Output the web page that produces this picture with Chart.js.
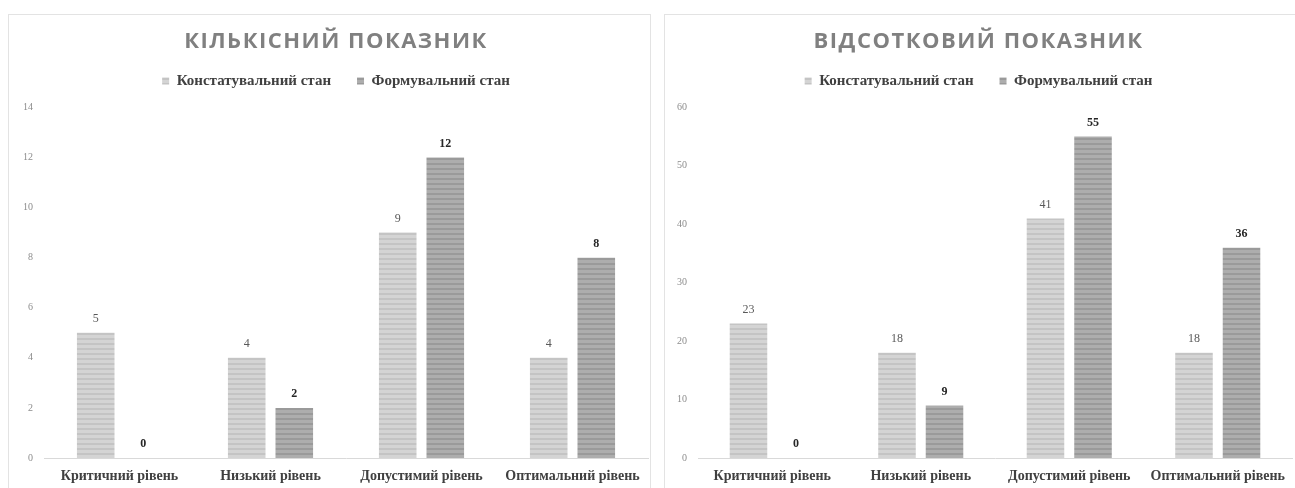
<!DOCTYPE html>
<html>
<head>
<meta charset="utf-8">
<script src="https://cdn.jsdelivr.net/npm/chart.js@4"></script>
<style>
  html, body { margin: 0; padding: 0; background: #fff; overflow: hidden; }
  .panel { position: absolute; top: 14px; border: 1px solid #e3e3e3; background: #fff; }
  #leftPanel { left: 8px; }
  #rightPanel { left: 664px; }
  canvas { display: block; }
</style>
</head>
<body>
<div class="panel" id="leftPanel"><canvas id="countChart" width="641" height="473"></canvas></div>
<div class="panel" id="rightPanel"><canvas id="percentChart" width="643" height="473"></canvas></div>
<script>
// ============================================
// DATA
// ============================================
const categories = ['Критичний рівень', 'Низький рівень', 'Допустимий рівень', 'Оптимальний рівень'];
const seriesNames = ['Констатувальний стан', 'Формувальний стан'];

const countBefore = [5, 4, 9, 4];
const countAfter = [0, 2, 12, 8];
const countTicks = [0, 2, 4, 6, 8, 10, 12, 14];

const percentBefore = [23, 18, 41, 18];
const percentAfter = [0, 9, 55, 36];
const percentTicks = [0, 10, 20, 30, 40, 50, 60];

// striped fills like the original Excel pattern
function stripes(base, line) {
    const c = document.createElement('canvas');
    c.width = 4; c.height = 5;
    const g = c.getContext('2d');
    g.fillStyle = base;
    g.fillRect(0, 0, 4, 5);
    g.fillStyle = line;
    g.fillRect(0, 3, 4, 2);
    return g.createPattern(c, 'repeat');
}

// value labels above the bars
const valueLabels = {
    id: 'valueLabels',
    afterDatasetsDraw(chart) {
        const ctx = chart.ctx;
        ctx.save();
        ctx.textAlign = 'center';
        ctx.textBaseline = 'middle';
        chart.data.datasets.forEach((ds, i) => {
            const meta = chart.getDatasetMeta(i);
            ctx.font = (i === 1 ? 'bold ' : '') + '12px "Liberation Serif"';
            ctx.fillStyle = i === 1 ? '#262626' : '#595959';
            meta.data.forEach((bar, j) => {
                ctx.fillText(ds.data[j], bar.x, bar.y - 14);
            });
        });
        ctx.restore();
    }
};

// wider letter spacing for the chart title
const spacedTitle = {
    id: 'spacedTitle',
    beforeDraw(chart) {
        const tb = chart.titleBlock;
        if (tb && !tb._spaced) {
            const draw = tb.draw.bind(tb);
            tb.draw = function (area) {
                chart.ctx.save();
                chart.ctx.letterSpacing = '1.5px';
                draw(area);
                chart.ctx.restore();
            };
            tb._spaced = true;
        }
    }
};

function makeChart(id, title, before, after, ticks, opt) {
    const yMax = ticks[ticks.length - 1];
    const yStep = ticks[1] - ticks[0];
    return new Chart(document.getElementById(id), {
        type: 'bar',
        data: {
            labels: categories,
            datasets: [
                {
                    label: seriesNames[0],
                    data: before,
                    backgroundColor: stripes('#d4d4d4', '#c4c4c4'),
                    categoryPercentage: opt.catPct,
                    barPercentage: 0.79
                },
                {
                    label: seriesNames[1],
                    data: after,
                    backgroundColor: stripes('#adadad', '#9a9a9a'),
                    categoryPercentage: opt.catPct,
                    barPercentage: 0.79
                }
            ]
        },
        plugins: [valueLabels, spacedTitle],
        options: {
            responsive: false,
            animation: false,
            layout: { padding: { left: opt.padLeft, right: opt.padRight, top: 0, bottom: 0 } },
            plugins: {
                tooltip: { enabled: false },
                title: {
                    display: true,
                    text: title,
                    color: '#808080',
                    font: { family: '"Open Sans"', size: 22, weight: 'bold' },
                    padding: { top: 14, bottom: -8 }
                },
                legend: {
                    display: true,
                    labels: {
                        color: '#404040',
                        boxWidth: 7,
                        boxHeight: 7,
                        padding: 26,
                        font: { family: '"Liberation Serif"', size: 15, weight: 'bold' }
                    }
                },
                // empty spacer between legend and plot
                subtitle: {
                    display: true,
                    text: '',
                    weight: 500,
                    padding: 0,
                    font: { size: 9, lineHeight: 1 }
                }
            },
            scales: {
                x: {
                    grid: { display: false, drawTicks: false },
                    border: { display: true, color: '#d9d9d9', width: 1 },
                    ticks: {
                        color: '#404040',
                        padding: 10,
                        font: { family: '"Liberation Serif"', size: 14, weight: 'bold' }
                    },
                    afterFit: (s) => { s.height = 30; }
                },
                y: {
                    min: 0,
                    max: yMax,
                    grid: { display: false, drawTicks: false },
                    border: { display: false },
                    ticks: {
                        stepSize: yStep,
                        color: '#8c8c8c',
                        padding: opt.tickPad,
                        font: { family: '"Liberation Serif"', size: 10 }
                    },
                    afterFit: (s) => { s.width = opt.axisWidth; }
                }
            }
        }
    });
}

makeChart('countChart', 'КІЛЬКІСНИЙ ПОКАЗНИК', countBefore, countAfter, countTicks,
    { catPct: 0.63, padLeft: 15, padRight: 2, axisWidth: 20, tickPad: 11 });
makeChart('percentChart', 'ВІДСОТКОВИЙ ПОКАЗНИК', percentBefore, percentAfter, percentTicks,
    { catPct: 0.64, padLeft: 0, padRight: 16, axisWidth: 33, tickPad: 11 });
</script>
</body>
</html>
